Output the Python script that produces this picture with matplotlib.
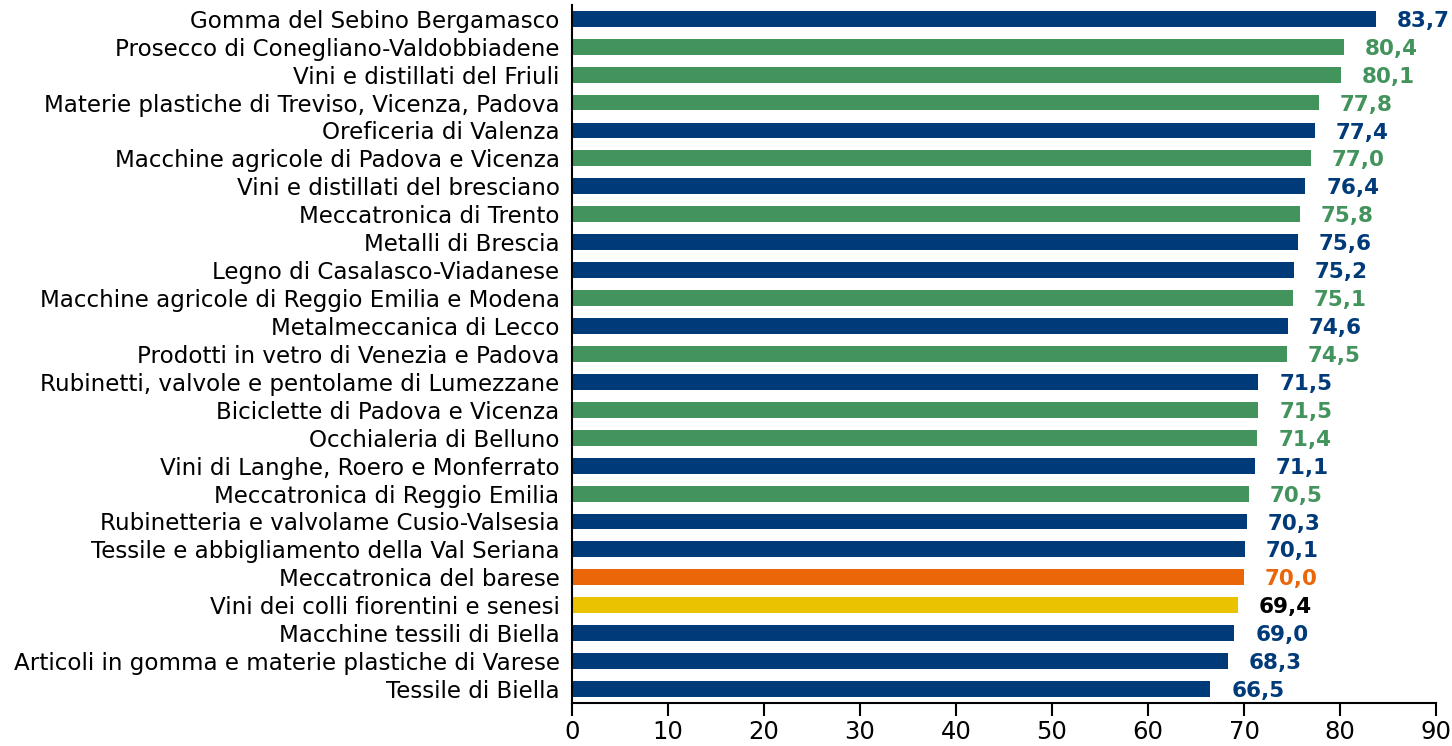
import matplotlib.pyplot as plt

# Dati
distretti = [
    "Gomma del Sebino Bergamasco",
    "Prosecco di Conegliano-Valdobbiadene",
    "Vini e distillati del Friuli",
    "Materie plastiche di Treviso, Vicenza, Padova",
    "Oreficeria di Valenza",
    "Macchine agricole di Padova e Vicenza",
    "Vini e distillati del bresciano",
    "Meccatronica di Trento",
    "Metalli di Brescia",
    "Legno di Casalasco-Viadanese",
    "Macchine agricole di Reggio Emilia e Modena",
    "Metalmeccanica di Lecco",
    "Prodotti in vetro di Venezia e Padova",
    "Rubinetti, valvole e pentolame di Lumezzane",
    "Biciclette di Padova e Vicenza",
    "Occhialeria di Belluno",
    "Vini di Langhe, Roero e Monferrato",
    "Meccatronica di Reggio Emilia",
    "Rubinetteria e valvolame Cusio-Valsesia",
    "Tessile e abbigliamento della Val Seriana",
    "Meccatronica del barese",
    "Vini dei colli fiorentini e senesi",
    "Macchine tessili di Biella",
    "Articoli in gomma e materie plastiche di Varese",
    "Tessile di Biella",
]
valori = [83.7, 80.4, 80.1, 77.8, 77.4, 77.0, 76.4, 75.8, 75.6, 75.2, 75.1, 74.6,
          74.5, 71.5, 71.5, 71.4, 71.1, 70.5, 70.3, 70.1, 70.0, 69.4, 69.0, 68.3, 66.5]
gruppi = ["B", "G", "G", "G", "B", "G", "B", "G", "B", "B", "G", "B", "G",
          "B", "G", "G", "B", "G", "B", "B", "O", "Y", "B", "B", "B"]

colori_barre = {"B": "#003A78", "G": "#43935C", "O": "#EB6608", "Y": "#EBC200"}
colori_testo = {"B": "#003A78", "G": "#43935C", "O": "#EB6608", "Y": "#000000"}

plt.rcParams['font.family'] = ['DejaVu Sans']

fig = plt.figure(figsize=(14.52, 7.46), dpi=100)
ax = fig.add_axes([0.394, 0.0576, 0.595, 0.936])

y = list(range(len(distretti)))
ax.barh(y, valori, height=0.57, color=[colori_barre[g] for g in gruppi])

for yi, v, g in zip(y, valori, gruppi):
    ax.annotate(f"{v:.1f}".replace(".", ","), (v, yi), xytext=(15, -1.5),
                textcoords="offset points", ha="left", va="center",
                fontsize=15.5, fontweight="bold", color=colori_testo[g])

ax.set_yticks(y)
ax.set_yticklabels(distretti, fontsize=16.6)
ax.set_ylim(len(distretti) - 0.5, -0.5)
ax.set_xlim(0, 90)
ax.set_xticks(range(0, 91, 10))
ax.tick_params(axis='x', labelsize=17.5, length=9, width=1.5, direction='out', pad=3)
ax.tick_params(axis='y', length=0, pad=9)

for s in ["top", "right"]:
    ax.spines[s].set_visible(False)
ax.spines["left"].set_linewidth(1.5)
ax.spines["bottom"].set_linewidth(1.5)

fig.savefig("out.png", dpi=100)
